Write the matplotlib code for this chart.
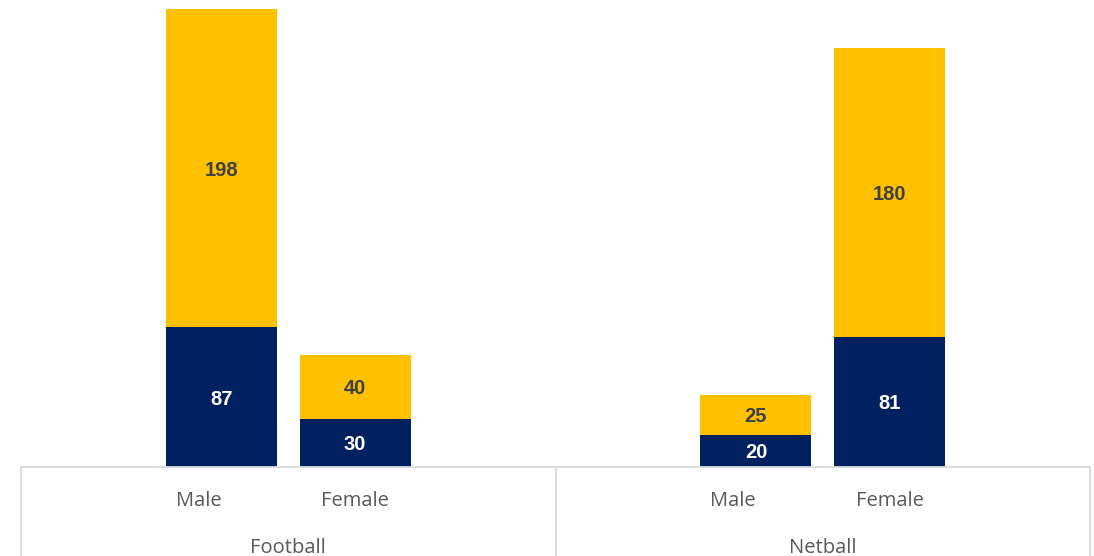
import matplotlib
matplotlib.use("Agg")
import matplotlib.pyplot as plt
import numpy as np

# data
groups = ["Football", "Netball"]
genders = ["Male", "Female"]
series_a = [87, 30, 20, 81]     # navy, bottom
series_b = [198, 40, 25, 180]   # yellow, top

# 4 slots per group (empty, Male, Female, empty) like the excel layout
slots = [1, 2, 5, 6]

navy = "#002060"
yellow = "#FFC000"
line_col = "#D9D9D9"

fig = plt.figure(figsize=(10.94, 5.56), dpi=100)
ax = fig.add_axes([21 / 1094, 89 / 556, (1090 - 21) / 1094, 1 - 89 / 556])

w = 0.83
bars_a = ax.bar(slots, series_a, width=w, color=navy, zorder=2)
bars_b = ax.bar(slots, series_b, width=w, bottom=series_a, color=yellow, zorder=2)

for i, x in enumerate(slots):
    ax.annotate(str(series_a[i]), (x, series_a[i] / 2), xytext=(0, -2), textcoords="offset pixels",
                ha="center", va="center", color="white", fontsize=14.5, fontweight="bold",
                family="Liberation Sans")
    ax.annotate(str(series_b[i]), (x, series_a[i] + series_b[i] / 2), xytext=(0, -2),
                textcoords="offset pixels", ha="center", va="center", color="#404040",
                fontsize=14.5, fontweight="bold", family="Liberation Sans")

ax.set_xlim(-0.5, 7.5)
ax.set_ylim(0, 290.6)
ax.axis("off")

# category axis box (two level)
trans = ax.get_xaxis_transform()
ax.plot([-0.5, 7.5], [0, 0], color=line_col, lw=1.3, transform=trans, clip_on=False)
for xv in [-0.5, 3.5, 7.5]:
    ax.plot([xv, xv], [0, -0.2], color=line_col, lw=1.3, transform=trans, clip_on=False)

y_tick = -(501 - 467) / 467
y_grp = -(548 - 467) / 467
# excel puts the "Male" label a bit left of its bar
shift = [-0.17, 0.0]
for i, x in enumerate(slots):
    ax.text(x + shift[i % 2], y_tick, genders[i % 2], transform=trans, ha="center", va="center",
            fontsize=14.5, color="#595959", family="Open Sans")
for j, g in enumerate(groups):
    ax.text(1.5 + 4 * j, y_grp, g, transform=trans, ha="center", va="center",
            fontsize=14.5, color="#595959", family="Open Sans")

fig.savefig("out.png", dpi=100)
